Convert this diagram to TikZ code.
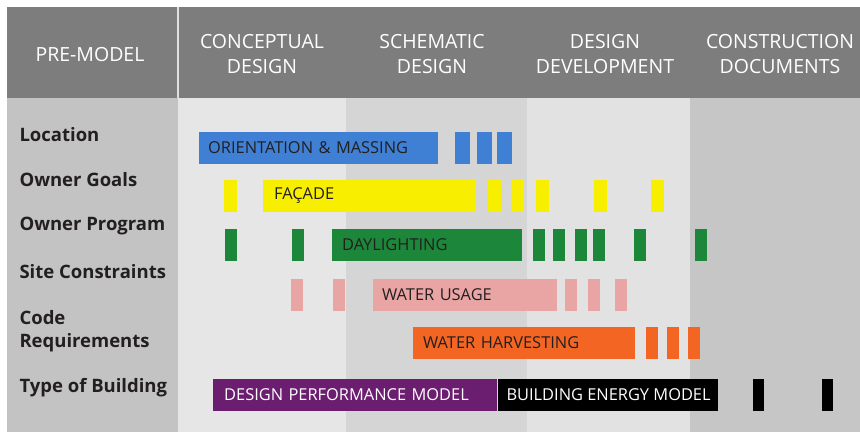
\documentclass[tikz,border=0pt]{standalone}
\usepackage{fontspec}
\setmainfont{Open Sans}
\usetikzlibrary{positioning}
\definecolor{Header}{HTML}{7D7D7D}
\definecolor{Side}{HTML}{C3C3C3}
\definecolor{PaleA}{HTML}{E6E6E6}
\definecolor{PaleB}{HTML}{D5D5D5}
\definecolor{PaleC}{HTML}{E2E2E2}
\definecolor{PaleD}{HTML}{C6C6C6}
\definecolor{Blue}{HTML}{3F7FD4}
\definecolor{Yellow}{HTML}{F7EE00}
\definecolor{Green}{HTML}{1C873A}
\definecolor{Pink}{HTML}{E9A4A4}
\definecolor{Orange}{HTML}{F26522}
\definecolor{Purple}{HTML}{6B1D6F}
\definecolor{Ink}{HTML}{231F20}
\tikzset{phase/.style={text=white,font=\fontsize{19.5}{25}\selectfont,align=center},input/.style={anchor=west,font=\bfseries\fontsize{18.5}{23}\selectfont,text=Ink,align=left},bar/.style={fill=#1,anchor=west,minimum height=32pt,inner xsep=9pt,inner ysep=0pt,align=left,font=\fontsize{16.4}{20}\selectfont,text=Ink},tick/.style={fill=#1,minimum height=32pt,minimum width=12pt,inner sep=0pt}}

\begin{document}
\begin{tikzpicture}[x=1pt,y=-1pt]
      \useasboundingbox (0,0) rectangle (860,433);
      \fill[Header] (7,7) rectangle (860,98);
      \fill[Side] (7,98) rectangle (178,432);
      \fill[PaleA] (178,98) rectangle (346,432);
      \fill[PaleB] (346,98) rectangle (527,432);
      \fill[PaleC] (527,98) rectangle (690,432);
      \fill[PaleD] (690,98) rectangle (860,432);
      \draw[white!75!Header,line width=1.5pt] (178,7) -- (178,98);
      \node[phase] (pre) at (90,55) {PRE-MODEL};
      \node[phase] (concept) at (262,54.5) {CONCEPTUAL\\DESIGN};
      \node[phase] (schem) at (432,54.5) {SCHEMATIC\\DESIGN};
      \node[phase] (devel) at (605,54.5) {DESIGN\\DEVELOPMENT};
      \node[phase] (constr) at (780,54.5) {CONSTRUCTION\\DOCUMENTS};
      \node[input] (location) at (16,135) {Location};
      \node[input] (goals) at (16,180) {Owner Goals};
      \node[input] (program) at (16,226) {Owner Program};
      \node[input] (site) at (16,272) {Site Constraints};
      \node[input] (code) at (16,331) {Code\\Requirements};
      \node[input] (type) at (16,388) {Type of Building};
      \node[bar=Blue,text width=221pt] (massing) at (199,148) {ORIENTATION \& MASSING};
      \node[bar=Yellow,text width=195pt] (facade) at (263,196) {\hspace{2pt}FAÇADE};
      \node[bar=Green,text width=172pt] (daylight) at (332,245) {\hspace{1pt}DAYLIGHTING};
      \node[bar=Pink,text width=166pt] (usage) at (373,295) {WATER USAGE};
      \node[bar=Orange,text width=204pt] (harvest) at (413,343) {\hspace{1pt}WATER HARVESTING};
      \node[bar=Purple,text=white,text width=266pt] (dpm) at (213,395) {\hspace{2pt}DESIGN PERFORMANCE MODEL};
      \node[bar=black,text=white,minimum width=220pt,inner xsep=2pt,right=0pt of dpm] (bem) {\hspace{2pt}BUILDING ENERGY MODEL};
      \foreach \x [count=\i] in {462.5,484.5,504.5} \node[tick=Blue,minimum width=15pt] (b\i) at (\x,148) {};
      \foreach \x [count=\i] in {230.5,494.5,517,542,600,657.5} \node[tick=Yellow,minimum width=13pt] (y\i) at (\x,196) {};
      \foreach \x [count=\i] in {231,297.5,538.5,559,580.5,599,639.5,701} \node[tick=Green] (g\i) at (\x,245) {};
      \foreach \x [count=\i] in {297,339,571,593.5,620.5} \node[tick=Pink] (p\i) at (\x,295) {};
      \foreach \x [count=\i] in {652,672.5,694} \node[tick=Orange] (o\i) at (\x,343) {};
      \foreach \x [count=\i] in {758.5,827} \node[tick=black,minimum width=11pt] (k\i) at (\x,395) {};
    \end{tikzpicture}
\end{document}
